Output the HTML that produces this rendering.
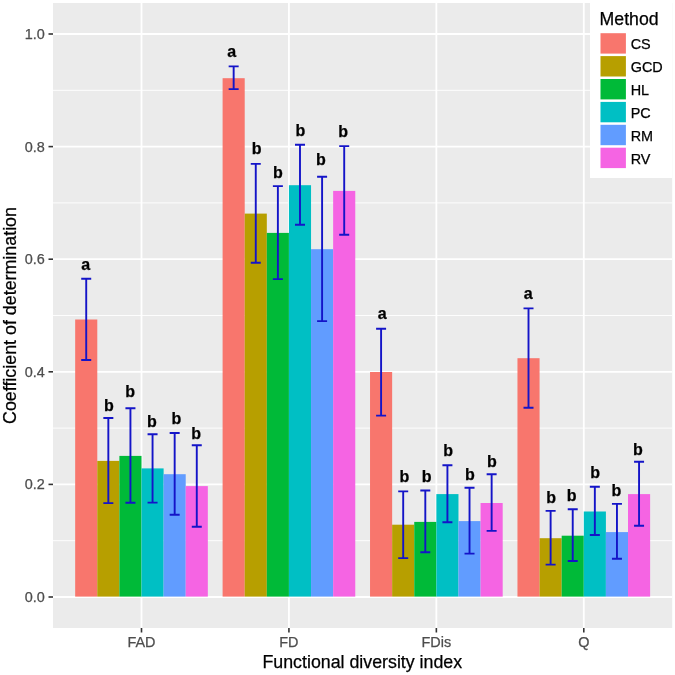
<!DOCTYPE html>
<html><head><meta charset="utf-8"><title>Coefficient of determination by functional diversity index</title>
<style>html,body{margin:0;padding:0;background:#fff;}svg{display:block;font-family:"Liberation Sans",sans-serif;font-variant-ligatures:none;will-change:transform;}text{stroke-width:0.25px;paint-order:stroke;}</style></head>
<body><svg width="675" height="675" viewBox="0 0 675 675" shape-rendering="geometricPrecision">
<rect x="0" y="0" width="675" height="675" fill="#FFFFFF"/>
<rect x="53.0" y="3.0" width="619.2" height="625.0" fill="#EBEBEB"/>
<line x1="53.0" x2="672.2" y1="540.70" y2="540.70" stroke="#FFFFFF" stroke-width="0.9"/>
<line x1="53.0" x2="672.2" y1="428.10" y2="428.10" stroke="#FFFFFF" stroke-width="0.9"/>
<line x1="53.0" x2="672.2" y1="315.50" y2="315.50" stroke="#FFFFFF" stroke-width="0.9"/>
<line x1="53.0" x2="672.2" y1="202.90" y2="202.90" stroke="#FFFFFF" stroke-width="0.9"/>
<line x1="53.0" x2="672.2" y1="90.30" y2="90.30" stroke="#FFFFFF" stroke-width="0.9"/>
<line x1="53.0" x2="672.2" y1="597.00" y2="597.00" stroke="#FFFFFF" stroke-width="1.8"/>
<line x1="53.0" x2="672.2" y1="484.40" y2="484.40" stroke="#FFFFFF" stroke-width="1.8"/>
<line x1="53.0" x2="672.2" y1="371.80" y2="371.80" stroke="#FFFFFF" stroke-width="1.8"/>
<line x1="53.0" x2="672.2" y1="259.20" y2="259.20" stroke="#FFFFFF" stroke-width="1.8"/>
<line x1="53.0" x2="672.2" y1="146.60" y2="146.60" stroke="#FFFFFF" stroke-width="1.8"/>
<line x1="53.0" x2="672.2" y1="34.00" y2="34.00" stroke="#FFFFFF" stroke-width="1.8"/>
<line x1="141.5" x2="141.5" y1="3.0" y2="628.0" stroke="#FFFFFF" stroke-width="1.8"/>
<line x1="288.93" x2="288.93" y1="3.0" y2="628.0" stroke="#FFFFFF" stroke-width="1.8"/>
<line x1="436.36" x2="436.36" y1="3.0" y2="628.0" stroke="#FFFFFF" stroke-width="1.8"/>
<line x1="583.79" x2="583.79" y1="3.0" y2="628.0" stroke="#FFFFFF" stroke-width="1.8"/>
<rect x="75.17" y="319.50" width="22.11" height="277.10" fill="#F8766D"/>
<rect x="97.28" y="460.90" width="22.11" height="135.70" fill="#B79F00"/>
<rect x="119.39" y="455.90" width="22.11" height="140.70" fill="#00BA38"/>
<rect x="141.50" y="468.40" width="22.11" height="128.20" fill="#00BFC4"/>
<rect x="163.61" y="474.20" width="22.11" height="122.40" fill="#619CFF"/>
<rect x="185.72" y="486.10" width="22.11" height="110.50" fill="#F564E3"/>
<rect x="222.60" y="78.20" width="22.11" height="518.40" fill="#F8766D"/>
<rect x="244.71" y="213.60" width="22.11" height="383.00" fill="#B79F00"/>
<rect x="266.82" y="232.90" width="22.11" height="363.70" fill="#00BA38"/>
<rect x="288.93" y="185.20" width="22.11" height="411.40" fill="#00BFC4"/>
<rect x="311.04" y="249.20" width="22.11" height="347.40" fill="#619CFF"/>
<rect x="333.15" y="190.90" width="22.11" height="405.70" fill="#F564E3"/>
<rect x="370.03" y="372.00" width="22.11" height="224.60" fill="#F8766D"/>
<rect x="392.14" y="524.70" width="22.11" height="71.90" fill="#B79F00"/>
<rect x="414.25" y="521.90" width="22.11" height="74.70" fill="#00BA38"/>
<rect x="436.36" y="494.10" width="22.11" height="102.50" fill="#00BFC4"/>
<rect x="458.47" y="521.10" width="22.11" height="75.50" fill="#619CFF"/>
<rect x="480.58" y="503.00" width="22.11" height="93.60" fill="#F564E3"/>
<rect x="517.46" y="358.20" width="22.11" height="238.40" fill="#F8766D"/>
<rect x="539.57" y="538.20" width="22.11" height="58.40" fill="#B79F00"/>
<rect x="561.68" y="535.70" width="22.11" height="60.90" fill="#00BA38"/>
<rect x="583.79" y="511.50" width="22.11" height="85.10" fill="#00BFC4"/>
<rect x="605.90" y="532.10" width="22.11" height="64.50" fill="#619CFF"/>
<rect x="628.01" y="494.10" width="22.11" height="102.50" fill="#F564E3"/>
<path d="M81.22 278.70H91.22M86.22 278.70V360.00M81.22 360.00H91.22" stroke="#1414C8" stroke-width="1.9" fill="none"/>
<path d="M103.34 418.00H113.34M108.34 418.00V503.10M103.34 503.10H113.34" stroke="#1414C8" stroke-width="1.9" fill="none"/>
<path d="M125.44 408.20H135.44M130.44 408.20V502.80M125.44 502.80H135.44" stroke="#1414C8" stroke-width="1.9" fill="none"/>
<path d="M147.56 434.20H157.56M152.56 434.20V502.60M147.56 502.60H157.56" stroke="#1414C8" stroke-width="1.9" fill="none"/>
<path d="M169.67 433.00H179.67M174.67 433.00V514.70M169.67 514.70H179.67" stroke="#1414C8" stroke-width="1.9" fill="none"/>
<path d="M191.78 445.20H201.78M196.78 445.20V526.80M191.78 526.80H201.78" stroke="#1414C8" stroke-width="1.9" fill="none"/>
<path d="M228.66 66.40H238.66M233.66 66.40V89.10M228.66 89.10H238.66" stroke="#1414C8" stroke-width="1.9" fill="none"/>
<path d="M250.77 163.90H260.77M255.77 163.90V262.80M250.77 262.80H260.77" stroke="#1414C8" stroke-width="1.9" fill="none"/>
<path d="M272.88 186.10H282.88M277.88 186.10V279.10M272.88 279.10H282.88" stroke="#1414C8" stroke-width="1.9" fill="none"/>
<path d="M294.99 144.70H304.99M299.99 144.70V224.80M294.99 224.80H304.99" stroke="#1414C8" stroke-width="1.9" fill="none"/>
<path d="M317.10 176.70H327.10M322.10 176.70V321.10M317.10 321.10H327.10" stroke="#1414C8" stroke-width="1.9" fill="none"/>
<path d="M339.21 146.10H349.21M344.21 146.10V234.70M339.21 234.70H349.21" stroke="#1414C8" stroke-width="1.9" fill="none"/>
<path d="M376.09 328.80H386.09M381.09 328.80V415.60M376.09 415.60H386.09" stroke="#1414C8" stroke-width="1.9" fill="none"/>
<path d="M398.20 491.40H408.20M403.20 491.40V558.10M398.20 558.10H408.20" stroke="#1414C8" stroke-width="1.9" fill="none"/>
<path d="M420.31 490.50H430.31M425.31 490.50V552.30M420.31 552.30H430.31" stroke="#1414C8" stroke-width="1.9" fill="none"/>
<path d="M442.42 465.20H452.42M447.42 465.20V522.20M442.42 522.20H452.42" stroke="#1414C8" stroke-width="1.9" fill="none"/>
<path d="M464.53 487.80H474.53M469.53 487.80V553.60M464.53 553.60H474.53" stroke="#1414C8" stroke-width="1.9" fill="none"/>
<path d="M486.64 474.30H496.64M491.64 474.30V530.90M486.64 530.90H496.64" stroke="#1414C8" stroke-width="1.9" fill="none"/>
<path d="M523.51 308.40H533.51M528.51 308.40V407.80M523.51 407.80H533.51" stroke="#1414C8" stroke-width="1.9" fill="none"/>
<path d="M545.62 510.90H555.62M550.62 510.90V564.60M545.62 564.60H555.62" stroke="#1414C8" stroke-width="1.9" fill="none"/>
<path d="M567.73 509.30H577.73M572.73 509.30V561.00M567.73 561.00H577.73" stroke="#1414C8" stroke-width="1.9" fill="none"/>
<path d="M589.84 486.80H599.84M594.84 486.80V535.00M589.84 535.00H599.84" stroke="#1414C8" stroke-width="1.9" fill="none"/>
<path d="M611.95 503.90H621.95M616.95 503.90V558.80M611.95 558.80H621.95" stroke="#1414C8" stroke-width="1.9" fill="none"/>
<path d="M634.06 461.80H644.06M639.06 461.80V525.70M634.06 525.70H644.06" stroke="#1414C8" stroke-width="1.9" fill="none"/>
<text x="85.61" y="269.90" text-anchor="middle" font-weight="bold" font-size="16" fill="#000" stroke="#000">a</text>
<text x="108.80" y="410.50" text-anchor="middle" font-weight="bold" font-size="16" fill="#000" stroke="#000">b</text>
<text x="130.20" y="396.70" text-anchor="middle" font-weight="bold" font-size="16" fill="#000" stroke="#000">b</text>
<text x="152.00" y="426.80" text-anchor="middle" font-weight="bold" font-size="16" fill="#000" stroke="#000">b</text>
<text x="176.40" y="423.80" text-anchor="middle" font-weight="bold" font-size="16" fill="#000" stroke="#000">b</text>
<text x="196.05" y="438.50" text-anchor="middle" font-weight="bold" font-size="16" fill="#000" stroke="#000">b</text>
<text x="231.71" y="56.70" text-anchor="middle" font-weight="bold" font-size="16" fill="#000" stroke="#000">a</text>
<text x="256.60" y="154.30" text-anchor="middle" font-weight="bold" font-size="16" fill="#000" stroke="#000">b</text>
<text x="277.80" y="178.00" text-anchor="middle" font-weight="bold" font-size="16" fill="#000" stroke="#000">b</text>
<text x="300.40" y="135.90" text-anchor="middle" font-weight="bold" font-size="16" fill="#000" stroke="#000">b</text>
<text x="320.80" y="165.40" text-anchor="middle" font-weight="bold" font-size="16" fill="#000" stroke="#000">b</text>
<text x="343.10" y="136.70" text-anchor="middle" font-weight="bold" font-size="16" fill="#000" stroke="#000">b</text>
<text x="382.31" y="319.30" text-anchor="middle" font-weight="bold" font-size="16" fill="#000" stroke="#000">a</text>
<text x="404.35" y="482.10" text-anchor="middle" font-weight="bold" font-size="16" fill="#000" stroke="#000">b</text>
<text x="426.60" y="482.10" text-anchor="middle" font-weight="bold" font-size="16" fill="#000" stroke="#000">b</text>
<text x="448.05" y="456.40" text-anchor="middle" font-weight="bold" font-size="16" fill="#000" stroke="#000">b</text>
<text x="469.90" y="479.70" text-anchor="middle" font-weight="bold" font-size="16" fill="#000" stroke="#000">b</text>
<text x="491.80" y="467.00" text-anchor="middle" font-weight="bold" font-size="16" fill="#000" stroke="#000">b</text>
<text x="528.31" y="298.80" text-anchor="middle" font-weight="bold" font-size="16" fill="#000" stroke="#000">a</text>
<text x="551.20" y="502.80" text-anchor="middle" font-weight="bold" font-size="16" fill="#000" stroke="#000">b</text>
<text x="571.60" y="500.70" text-anchor="middle" font-weight="bold" font-size="16" fill="#000" stroke="#000">b</text>
<text x="595.20" y="477.90" text-anchor="middle" font-weight="bold" font-size="16" fill="#000" stroke="#000">b</text>
<text x="616.30" y="496.30" text-anchor="middle" font-weight="bold" font-size="16" fill="#000" stroke="#000">b</text>
<text x="638.00" y="455.10" text-anchor="middle" font-weight="bold" font-size="16" fill="#000" stroke="#000">b</text>
<line x1="48.5" x2="53.0" y1="597.00" y2="597.00" stroke="#333333" stroke-width="1.6"/>
<text x="44.9" y="601.97" text-anchor="end" font-size="14.42" fill="#4D4D4D" stroke="#4D4D4D">0.0</text>
<line x1="48.5" x2="53.0" y1="484.40" y2="484.40" stroke="#333333" stroke-width="1.6"/>
<text x="44.9" y="489.37" text-anchor="end" font-size="14.42" fill="#4D4D4D" stroke="#4D4D4D">0.2</text>
<line x1="48.5" x2="53.0" y1="371.80" y2="371.80" stroke="#333333" stroke-width="1.6"/>
<text x="44.9" y="376.77" text-anchor="end" font-size="14.42" fill="#4D4D4D" stroke="#4D4D4D">0.4</text>
<line x1="48.5" x2="53.0" y1="259.20" y2="259.20" stroke="#333333" stroke-width="1.6"/>
<text x="44.9" y="264.17" text-anchor="end" font-size="14.42" fill="#4D4D4D" stroke="#4D4D4D">0.6</text>
<line x1="48.5" x2="53.0" y1="146.60" y2="146.60" stroke="#333333" stroke-width="1.6"/>
<text x="44.9" y="151.57" text-anchor="end" font-size="14.42" fill="#4D4D4D" stroke="#4D4D4D">0.8</text>
<line x1="48.5" x2="53.0" y1="34.00" y2="34.00" stroke="#333333" stroke-width="1.6"/>
<text x="44.9" y="38.97" text-anchor="end" font-size="14.42" fill="#4D4D4D" stroke="#4D4D4D">1.0</text>
<line x1="141.5" x2="141.5" y1="628.0" y2="632.5" stroke="#333333" stroke-width="1.6"/>
<text x="141.5" y="646.6" text-anchor="middle" font-size="14.42" fill="#4D4D4D" stroke="#4D4D4D">FAD</text>
<line x1="288.93" x2="288.93" y1="628.0" y2="632.5" stroke="#333333" stroke-width="1.6"/>
<text x="288.93" y="646.6" text-anchor="middle" font-size="14.42" fill="#4D4D4D" stroke="#4D4D4D">FD</text>
<line x1="436.36" x2="436.36" y1="628.0" y2="632.5" stroke="#333333" stroke-width="1.6"/>
<text x="436.36" y="646.6" text-anchor="middle" font-size="14.42" fill="#4D4D4D" stroke="#4D4D4D">FDis</text>
<line x1="583.79" x2="583.79" y1="628.0" y2="632.5" stroke="#333333" stroke-width="1.6"/>
<text x="583.79" y="646.6" text-anchor="middle" font-size="14.42" fill="#4D4D4D" stroke="#4D4D4D">Q</text>
<text x="362.3" y="668.1" text-anchor="middle" font-size="17.8" fill="#000" stroke="#000">Functional diversity index</text>
<text transform="translate(15.8 315.50) rotate(-90)" x="0" y="0" text-anchor="middle" font-size="17.85" fill="#000" stroke="#000">Coefficient of determination</text>
<rect x="590" y="3.0" width="82.20000000000005" height="175.0" fill="#FFFFFF"/>
<text x="599.6" y="25.0" font-size="17.7" fill="#000" stroke="#000">Method</text>
<rect x="600.5" y="33.20" width="25.4" height="20.4" fill="#F8766D"/>
<text x="630.7" y="49.20" font-size="14.42" fill="#000" stroke="#000">CS</text>
<rect x="600.5" y="56.10" width="25.4" height="20.4" fill="#B79F00"/>
<text x="630.7" y="72.10" font-size="14.42" fill="#000" stroke="#000">GCD</text>
<rect x="600.5" y="79.00" width="25.4" height="20.4" fill="#00BA38"/>
<text x="630.7" y="95.00" font-size="14.42" fill="#000" stroke="#000">HL</text>
<rect x="600.5" y="101.90" width="25.4" height="20.4" fill="#00BFC4"/>
<text x="630.7" y="117.90" font-size="14.42" fill="#000" stroke="#000">PC</text>
<rect x="600.5" y="124.80" width="25.4" height="20.4" fill="#619CFF"/>
<text x="630.7" y="140.80" font-size="14.42" fill="#000" stroke="#000">RM</text>
<rect x="600.5" y="147.70" width="25.4" height="20.4" fill="#F564E3"/>
<text x="630.7" y="163.70" font-size="14.42" fill="#000" stroke="#000">RV</text>
</svg></body></html>
